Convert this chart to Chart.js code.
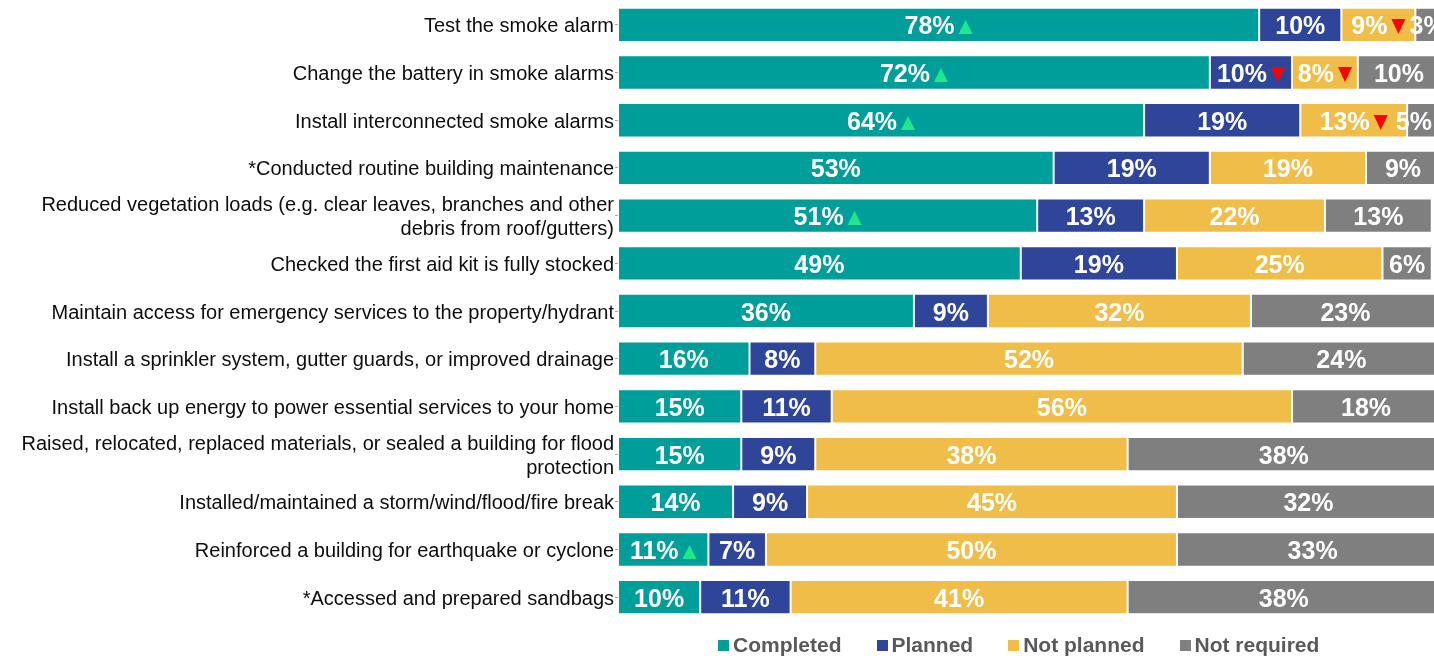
<!DOCTYPE html>
<html>
<head>
<meta charset="utf-8">
<script src="https://cdn.jsdelivr.net/npm/chart.js@4/dist/chart.umd.min.js"></script>
<style>
  html, body { margin: 0; padding: 0; overflow: hidden; background: #fff; }
  #wrap { position: relative; width: 1440px; height: 656px; }
  #legend {
    position: absolute; left: 718px; top: 633px;
    display: flex; align-items: center;
    font: bold 21px "Liberation Sans", Arial, sans-serif; color: #595959;
  }
  #legend .item { display: flex; align-items: center; margin-right: 35px; white-space: nowrap; }
  #legend .box { width: 11px; height: 11px; margin-right: 4px; }
</style>
</head>
<body>
<div id="wrap">
  <canvas id="graficoAcoes"></canvas>
  <div id="legend"></div>
</div>
<script>
const categories = [
  'Test the smoke alarm',
  'Change the battery in smoke alarms',
  'Install interconnected smoke alarms',
  '*Conducted routine building maintenance',
  ['Reduced vegetation loads (e.g. clear leaves, branches and other', 'debris from roof/gutters)'],
  'Checked the first aid kit is fully stocked',
  'Maintain access for emergency services to the property/hydrant',
  'Install a sprinkler system, gutter guards, or improved drainage',
  'Install back up energy to power essential services to your home',
  ['Raised, relocated, replaced materials, or sealed a building for flood', 'protection'],
  'Installed/maintained a storm/wind/flood/fire break',
  'Reinforced a building for earthquake or cyclone',
  '*Accessed and prepared sandbags'
];

const seriesNames = ['Completed', 'Planned', 'Not planned', 'Not required'];
const seriesColors = ['#009E9A', '#2F4599', '#F0BD48', '#7F7F7F'];

const completed   = [78, 72, 64, 53, 51, 49, 36, 16, 15, 15, 14, 11, 10];
const planned     = [10, 10, 19, 19, 13, 19,  9,  8, 11,  9,  9,  7, 11];
const notPlanned  = [ 9,  8, 13, 19, 22, 25, 32, 52, 56, 38, 45, 50, 41];
const notRequired = [ 3, 10,  5,  9, 13,  6, 23, 24, 18, 38, 32, 33, 38];

// significant change vs previous wave: 'up', 'down' or ''
const completedTrend   = ['up', 'up', 'up', '', 'up', '', '', '', '', '', '', 'up', ''];
const plannedTrend     = ['', 'down', '', '', '', '', '', '', '', '', '', '', ''];
const notPlannedTrend  = ['down', 'down', 'down', '', '', '', '', '', '', '', '', '', ''];
const notRequiredTrend = ['', '', '', '', '', '', '', '', '', '', '', '', ''];

const xTicks = [0, 100];

const seriesValues = [completed, planned, notPlanned, notRequired];
const seriesTrends = [completedTrend, plannedTrend, notPlannedTrend, notRequiredTrend];

const FONT = '"Liberation Sans", Arial, sans-serif';

// value labels in the middle of each segment, with the trend arrow after it
const segmentLabels = {
  id: 'segmentLabels',
  afterDatasetsDraw(chart) {
    const ctx = chart.ctx;
    const area = chart.chartArea;
    const maxRight = chart.width - 8;
    ctx.save();
    ctx.font = 'bold 25px ' + FONT;
    ctx.textAlign = 'left';
    ctx.textBaseline = 'alphabetic';
    chart.data.datasets.forEach((ds, i) => {
      const meta = chart.getDatasetMeta(i);
      meta.data.forEach((bar, j) => {
        const text = ds.data[j] + '%';
        const trend = ds.trend[j];
        const tw = ctx.measureText(text).width;
        const triW = trend ? 14 : 0;
        const gap = trend ? 4 : 0;
        const total = tw + gap + triW;
        const cx = (bar.base + bar.x) / 2;
        let left = cx - total / 2;
        if (bar.x > area.right && left + total > maxRight) left = maxRight - total;
        const baseY = Math.round(bar.y + 9.5);
        ctx.fillStyle = '#FFFFFF';
        ctx.fillText(text, left, baseY);
        if (trend) {
          const tx = left + tw + gap;
          ctx.beginPath();
          if (trend === 'up') {
            ctx.fillStyle = '#1DE98B';
            ctx.moveTo(tx, baseY);
            ctx.lineTo(tx + triW, baseY);
            ctx.lineTo(tx + triW / 2, baseY - 14);
          } else {
            ctx.fillStyle = '#FF0000';
            ctx.moveTo(tx, baseY - 15);
            ctx.lineTo(tx + triW, baseY - 15);
            ctx.lineTo(tx + triW / 2, baseY);
          }
          ctx.closePath();
          ctx.fill();
        }
      });
    });
    ctx.restore();
  }
};

function buildDatasets() {
  return seriesNames.map((name, i) => ({
    label: name,
    data: seriesValues[i],
    trend: seriesTrends[i],
    backgroundColor: seriesColors[i],
    borderColor: 'rgba(255,255,255,0.7)',
    borderWidth: 1,
    borderSkipped: false,
    barPercentage: 0.72,
    categoryPercentage: 1
  }));
}

function buildLegend() {
  const el = document.getElementById('legend');
  seriesNames.forEach((name, i) => {
    const item = document.createElement('div');
    item.className = 'item';
    const box = document.createElement('span');
    box.className = 'box';
    box.style.background = seriesColors[i];
    const txt = document.createElement('span');
    txt.textContent = name;
    item.appendChild(box);
    item.appendChild(txt);
    el.appendChild(item);
  });
}

function createGraficoAcoes() {
  const ctx = document.getElementById('graficoAcoes').getContext('2d');
  new Chart(ctx, {
    type: 'bar',
    data: {
      labels: categories,
      datasets: buildDatasets()
    },
    options: {
      indexAxis: 'y',
      responsive: true,
      maintainAspectRatio: false,
      animation: false,
      layout: { padding: { top: 1, bottom: 35, left: 0, right: 0 } },
      plugins: {
        legend: { display: false },
        tooltip: { enabled: false }
      },
      scales: {
        x: {
          stacked: true,
          display: false,
          min: xTicks[0],
          max: xTicks[xTicks.length - 1]
        },
        y: {
          stacked: true,
          afterFit(scale) {
            // fixed label column, and no extra room above/below for the labels
            scale.width = 618;
            scale.paddingTop = 0;
            scale.paddingBottom = 0;
          },
          border: { display: false },
          grid: {
            display: true,
            drawOnChartArea: false,
            drawTicks: true,
            tickLength: 3,
            offset: false,
            color: '#A6A6A6'
          },
          ticks: {
            autoSkip: false,
            padding: 1,
            labelOffset: 2,
            color: '#0D0D0D',
            font: { family: FONT, size: 20, lineHeight: 1.2 }
          }
        }
      }
    },
    plugins: [segmentLabels]
  });
}

buildLegend();
createGraficoAcoes();
</script>
</body>
</html>
